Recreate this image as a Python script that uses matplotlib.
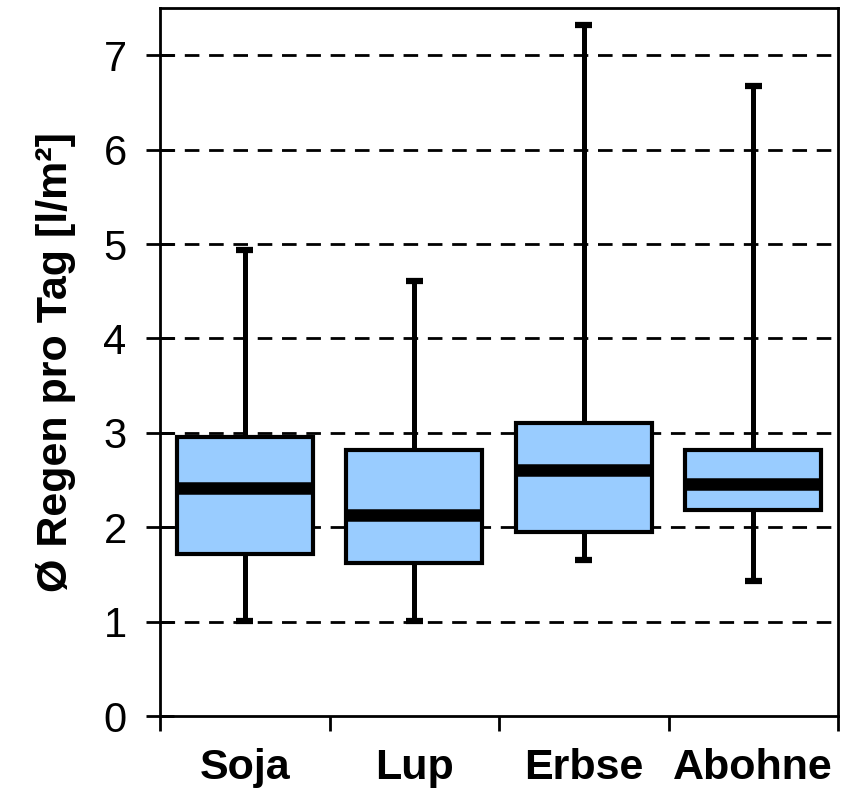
import matplotlib.pyplot as plt
from matplotlib.ticker import FixedLocator, NullFormatter

plt.rcParams['font.family'] = ['Liberation Sans', 'DejaVu Sans']
plt.rcParams['lines.scale_dashes'] = False

# Regen pro Tag je Kultur (Boxplot-Kennwerte)
kulturen = ['Soja', 'Lup', 'Erbse', 'Abohne']
minimum = [1.01, 1.01, 1.65, 1.43]
q1 = [1.72, 1.62, 1.95, 2.18]
median = [2.42, 2.13, 2.61, 2.46]
q3 = [2.96, 2.82, 3.10, 2.82]
maximum = [4.94, 4.61, 7.32, 6.67]

stats = []
for name, lo, a, m, b, hi in zip(kulturen, minimum, q1, median, q3, maximum):
    stats.append({'label': name, 'whislo': lo, 'q1': a, 'med': m,
                  'q3': b, 'whishi': hi, 'fliers': []})

fig = plt.figure(figsize=(8.41, 7.93), dpi=100)
ax = fig.add_axes([160 / 841, 77 / 793, 678 / 841, 708 / 793])

pos = [1, 2, 3, 4]
ax.bxp(stats, positions=pos, widths=0.8, patch_artist=True, showfliers=False,
       boxprops=dict(facecolor='#99CCFF', edgecolor='black', linewidth=3),
       medianprops=dict(color='black', linewidth=9, solid_capstyle='butt'),
       whiskerprops=dict(color='black', linewidth=3.6, solid_capstyle='butt'),
       capprops=dict(color='black', linewidth=4.5, solid_capstyle='butt'),
       capwidths=0.1, zorder=3)

ax.set_xlim(0.5, 4.5)
ax.set_ylim(0, 7.5)

# gestrichelte Hilfslinien
for y in range(1, 8):
    ax.axhline(y, color='black', linewidth=2, dashes=(10.5, 7), zorder=1)

ax.set_yticks(range(0, 8))
ax.tick_params(axis='y', direction='inout', length=20, width=2,
               labelsize=30, pad=14)

# Kategorie-Grenzen als Hauptticks, Namen auf Nebenticks
ax.xaxis.set_major_locator(FixedLocator([0.5, 1.5, 2.5, 3.5, 4.5]))
ax.xaxis.set_major_formatter(NullFormatter())
ax.xaxis.set_minor_locator(FixedLocator(pos))
ax.set_xticklabels(kulturen, minor=True, fontsize=31, fontweight='bold')
ax.tick_params(axis='x', which='major', direction='out', length=11, width=2)
ax.tick_params(axis='x', which='minor', length=0, pad=23)

for sp in ax.spines.values():
    sp.set_linewidth(2)

ax.set_ylabel('Ø Regen pro Tag [l/m²]', fontsize=31, fontweight='bold',
              labelpad=20)

fig.savefig('out.png', dpi=100)
